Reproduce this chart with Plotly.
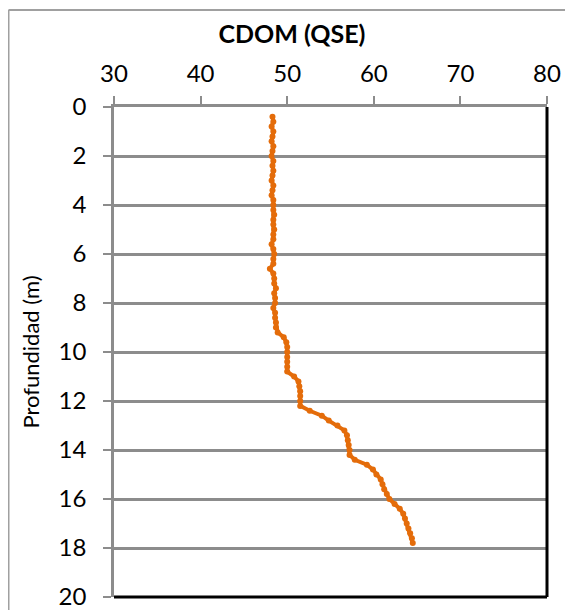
import plotly.graph_objects as go

depth_m = [0.4, 0.6, 0.8, 1.0, 1.2, 1.4, 1.6, 1.8, 2.0, 2.2, 2.4, 2.6, 2.8, 3.0, 3.2, 3.4,
           3.6, 3.8, 4.0, 4.2, 4.4, 4.6, 4.8, 5.0, 5.2, 5.4, 5.6, 5.8, 6.0, 6.2, 6.4, 6.6,
           6.8, 7.0, 7.2, 7.4, 7.6, 7.8, 8.0, 8.2, 8.4, 8.6, 8.8, 9.0, 9.2, 9.4, 9.6, 9.8,
           10.0, 10.2, 10.4, 10.6, 10.8, 11.0, 11.2, 11.4, 11.6, 11.8, 12.0, 12.2, 12.4, 12.6,
           12.8, 13.0, 13.2, 13.4, 13.6, 13.8, 14.0, 14.2, 14.4, 14.6, 14.8, 15.0, 15.2, 15.4,
           15.6, 15.8, 16.0, 16.2, 16.4, 16.6, 16.8, 17.0, 17.2, 17.4, 17.6, 17.8]

cdom_qse = [48.3, 48.4, 48.2, 48.4, 48.3, 48.2, 48.4, 48.3, 48.2, 48.4, 48.3, 48.4, 48.3, 48.2, 48.4, 48.3,
            48.2, 48.4, 48.4, 48.4, 48.5, 48.4, 48.4, 48.5, 48.4, 48.4, 48.2, 48.4, 48.5, 48.4, 48.4, 48.0,
            48.4, 48.5, 48.5, 48.7, 48.5, 48.6, 48.6, 48.4, 48.6, 48.6, 48.7, 48.7, 48.9, 49.6, 49.9, 50.0,
            50.0, 50.0, 50.0, 50.0, 50.0, 50.8, 51.3, 51.4, 51.5, 51.5, 51.5, 51.5, 52.6, 54.0,
            54.8, 55.8, 56.6, 56.9, 57.0, 57.1, 57.2, 57.2, 57.8, 59.2, 59.9, 60.3, 60.8, 61.0,
            61.2, 61.5, 61.8, 62.4, 63.0, 63.4, 63.6, 63.8, 64.0, 64.2, 64.4, 64.5]

x_ticks = [30, 40, 50, 60, 70, 80]
y_ticks = [0, 2, 4, 6, 8, 10, 12, 14, 16, 18, 20]

ORANGE = "#E46C0A"
GRAY = "#8C8C8C"
FONT = "Lato"

# page body has an 8px margin, so the figure is laid out in a 565x602 box
W, H = 565, 602
L, R, T, B = 106, 26, 99, 13
PW, PH = W - L - R, H - T - B

fig = go.Figure()
fig.add_trace(go.Scatter(
    x=cdom_qse, y=depth_m, mode="lines+markers",
    line=dict(color=ORANGE, width=4),
    marker=dict(color=ORANGE, size=6),
    showlegend=False,
))

fig.update_layout(
    width=W, height=H,
    margin=dict(l=L, r=R, t=T, b=B, autoexpand=False),
    paper_bgcolor="white", plot_bgcolor="white",
    font=dict(family=FONT, color="black"),
    title=dict(text="<b>CDOM (QSE)</b>", x=(292 - 8) / W, xref="container", xanchor="center",
               y=1 - (34 - 8) / H, yref="container", yanchor="middle",
               font=dict(family=FONT, size=25, color="black")),
    xaxis=dict(side="top", range=[30, 80], tickvals=x_ticks, showgrid=False, zeroline=False,
               showline=True, linecolor=GRAY, linewidth=2.5, automargin=False,
               ticks="outside", ticklen=8, tickwidth=2, tickcolor=GRAY,
               tickfont=dict(size=24, family=FONT, color="black"), ticklabelstandoff=5,
               ticklabeloverflow="allow"),
    yaxis=dict(range=[20, 0], tickvals=y_ticks, showgrid=True, gridcolor=GRAY, gridwidth=2.5,
               zeroline=False, showline=True, linecolor=GRAY, linewidth=2.5, automargin=False,
               ticks="outside", ticklen=8, tickwidth=2, tickcolor=GRAY,
               tickfont=dict(size=24, family=FONT, color="black"), ticklabelstandoff=12,
               ticklabeloverflow="allow",
               title=dict(text="Profundidad (m)", font=dict(size=22, family=FONT, color="black"),
                          standoff=13)),
    shapes=[
        dict(type="line", xref="paper", yref="paper", x0=1, x1=1, y0=0, y1=1,
             line=dict(color="black", width=3)),
        dict(type="line", xref="paper", yref="paper", x0=0, x1=1, y0=0, y1=0,
             line=dict(color="black", width=3)),
        dict(type="line", xref="paper", yref="paper", x0=(0.5 - L) / PW, x1=1.2,
             y0=(T + PH - 2) / PH, y1=(T + PH - 2) / PH,
             line=dict(color="#A0A0A0", width=2)),
        dict(type="line", xref="paper", yref="paper", x0=(0.5 - L) / PW, x1=(0.5 - L) / PW,
             y0=-0.1, y1=(T + PH - 2) / PH,
             line=dict(color="#A0A0A0", width=2)),
    ],
)

fig.write_html("out.html")
